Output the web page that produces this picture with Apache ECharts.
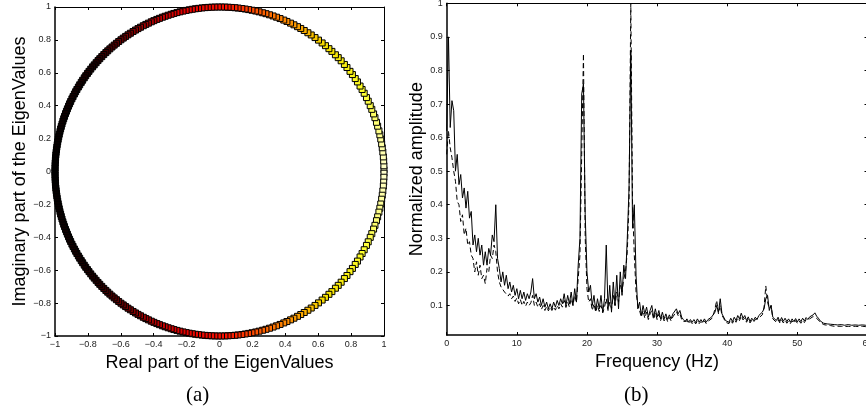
<!DOCTYPE html>
<html>
<head>
<meta charset="utf-8">
<script src="https://cdn.jsdelivr.net/npm/echarts@6.0.0/dist/echarts.min.js"></script>
<style>
html,body{margin:0;padding:0;background:#fff;}
#chart{width:866px;height:414px;}
</style>
</head>
<body>
<div id="chart"></div>
<script>
// ---------- (a) eigenvalues on the unit circle: angles (degrees) of the upper-half eigenvalues ----------
const eigAnglesDeg = [
 0.6, 2.0, 3.7, 5.1, 6.8, 8.3, 9.7, 11.4, 12.9, 14.3, 16.0, 17.4, 19.1, 20.5, 22.2, 23.6, 25.3, 26.7, 28.4, 29.9,
 31.3, 33.0, 34.4, 36.1, 37.5, 39.2, 40.6, 42.3, 43.8, 45.2, 46.9, 48.3, 49.9, 51.4, 53.0, 54.5, 56.1, 57.5, 59.0, 60.4,
 61.7, 63.1, 64.4, 65.8, 67.0, 68.4, 69.7, 71.0, 72.3, 73.6, 74.8, 76.1, 77.3, 78.6, 79.8, 81.0, 82.2, 83.5, 84.6, 85.8,
 87.0, 88.1, 89.3, 90.4, 91.6, 92.7, 93.9, 95.0, 96.1, 97.3, 98.4, 99.5, 100.6, 101.7, 102.8, 103.9, 105.0, 106.1, 107.1, 108.2,
 109.3, 110.3, 111.4, 112.4, 113.5, 114.5, 115.6, 116.6, 117.6, 118.7, 119.7, 120.7, 121.7, 122.8, 123.8, 124.8, 125.8, 126.8, 127.8, 128.8,
 129.8, 130.8, 131.8, 132.8, 133.7, 134.7, 135.7, 136.7, 137.6, 138.6, 139.6, 140.5, 141.5, 142.5, 143.4, 144.4, 145.3, 146.3, 147.2, 148.2,
 149.1, 150.1, 151.0, 151.9, 152.9, 153.8, 154.8, 155.7, 156.6, 157.6, 158.5, 159.4, 160.4, 161.3, 162.2, 163.2, 164.1, 165.0, 165.9, 166.9,
 167.8, 168.7, 169.6, 170.6, 171.5, 172.4, 173.3, 174.2, 175.2, 176.1, 177.0, 177.9, 178.8, 179.7
];

// ---------- (b) normalized spectra, sampled every 0.25 Hz from 0 to 60 Hz ----------
const freqStep = 0.25;
const ampSolid = [
 0.62, 0.90, 0.63, 0.71, 0.68, 0.50, 0.55, 0.46, 0.49, 0.42, 0.45, 0.39, 0.44, 0.36, 0.38, 0.28, 0.31, 0.26, 0.30, 0.25,
 0.28, 0.22, 0.26, 0.22, 0.27, 0.25, 0.31, 0.29, 0.40, 0.24, 0.21, 0.17, 0.20, 0.16, 0.19, 0.15, 0.17, 0.14, 0.16, 0.13,
 0.15, 0.12, 0.145, 0.12, 0.14, 0.115, 0.135, 0.12, 0.14, 0.18, 0.12, 0.135, 0.11, 0.125, 0.10, 0.12, 0.095, 0.11, 0.09, 0.105,
 0.09, 0.11, 0.095, 0.115, 0.10, 0.12, 0.105, 0.135, 0.10, 0.13, 0.105, 0.14, 0.10, 0.15, 0.11, 0.22, 0.30, 0.73, 0.76, 0.37,
 0.20, 0.14, 0.16, 0.10, 0.13, 0.085, 0.12, 0.09, 0.13, 0.08, 0.12, 0.28, 0.09, 0.16, 0.08, 0.17, 0.10, 0.19, 0.09, 0.20,
 0.13, 0.22, 0.18, 0.30, 0.45, 0.86, 0.33, 0.40, 0.19, 0.09, 0.11, 0.07, 0.10, 0.075, 0.095, 0.065, 0.085, 0.10, 0.065, 0.09,
 0.065, 0.085, 0.06, 0.08, 0.06, 0.075, 0.058, 0.072, 0.06, 0.075, 0.07, 0.09, 0.075, 0.085, 0.065, 0.058, 0.052, 0.06, 0.05, 0.058,
 0.05, 0.058, 0.049, 0.06, 0.05, 0.058, 0.05, 0.06, 0.05, 0.058, 0.055, 0.065, 0.06, 0.08, 0.10, 0.08, 0.12, 0.075, 0.07, 0.055,
 0.06, 0.05, 0.062, 0.052, 0.065, 0.055, 0.07, 0.06, 0.077, 0.062, 0.07, 0.055, 0.066, 0.052, 0.062, 0.055, 0.065, 0.058, 0.07, 0.065,
 0.08, 0.09, 0.12, 0.13, 0.085, 0.10, 0.065, 0.068, 0.055, 0.065, 0.052, 0.064, 0.053, 0.062, 0.052, 0.06, 0.05, 0.06, 0.052, 0.061,
 0.051, 0.06, 0.052, 0.062, 0.054, 0.064, 0.058, 0.066, 0.064, 0.072, 0.078, 0.068, 0.062, 0.054, 0.052, 0.047, 0.05, 0.045, 0.048, 0.044,
 0.047, 0.043, 0.047, 0.042, 0.046, 0.043, 0.047, 0.041, 0.046, 0.043, 0.045, 0.041, 0.046, 0.042, 0.045, 0.041, 0.045, 0.042, 0.044, 0.041,
 0.044
];
const ampDashed = [
 0.55, 0.62, 0.57, 0.54, 0.50, 0.47, 0.41, 0.40, 0.35, 0.37, 0.31, 0.33, 0.28, 0.29, 0.25, 0.24, 0.20, 0.23, 0.19, 0.22,
 0.18, 0.19, 0.165, 0.21, 0.20, 0.25, 0.24, 0.28, 0.26, 0.20, 0.17, 0.155, 0.15, 0.14, 0.145, 0.128, 0.135, 0.12, 0.128, 0.112,
 0.122, 0.105, 0.118, 0.10, 0.112, 0.098, 0.11, 0.10, 0.108, 0.13, 0.10, 0.11, 0.095, 0.105, 0.088, 0.10, 0.085, 0.097, 0.084, 0.095,
 0.085, 0.096, 0.086, 0.10, 0.09, 0.105, 0.095, 0.115, 0.094, 0.11, 0.095, 0.12, 0.10, 0.13, 0.11, 0.18, 0.25, 0.55, 0.85, 0.30,
 0.15, 0.11, 0.12, 0.085, 0.105, 0.08, 0.10, 0.082, 0.10, 0.078, 0.095, 0.12, 0.085, 0.11, 0.09, 0.13, 0.10, 0.14, 0.11, 0.16,
 0.14, 0.18, 0.20, 0.26, 0.41, 1.0, 0.40, 0.25, 0.14, 0.10, 0.085, 0.065, 0.085, 0.062, 0.08, 0.058, 0.075, 0.085, 0.058, 0.078,
 0.058, 0.074, 0.055, 0.07, 0.054, 0.066, 0.052, 0.064, 0.054, 0.066, 0.064, 0.082, 0.07, 0.076, 0.058, 0.052, 0.047, 0.054, 0.046, 0.052,
 0.046, 0.053, 0.045, 0.054, 0.046, 0.052, 0.046, 0.054, 0.046, 0.053, 0.05, 0.06, 0.07, 0.09, 0.115, 0.075, 0.10, 0.07, 0.062, 0.05,
 0.054, 0.046, 0.056, 0.047, 0.058, 0.05, 0.063, 0.055, 0.068, 0.057, 0.063, 0.05, 0.06, 0.048, 0.056, 0.05, 0.058, 0.053, 0.063, 0.06,
 0.072, 0.095, 0.158, 0.11, 0.09, 0.10, 0.06, 0.062, 0.05, 0.058, 0.048, 0.057, 0.048, 0.056, 0.047, 0.054, 0.046, 0.054, 0.047, 0.055,
 0.047, 0.054, 0.047, 0.056, 0.049, 0.058, 0.053, 0.06, 0.06, 0.067, 0.07, 0.062, 0.056, 0.05, 0.047, 0.043, 0.045, 0.041, 0.043, 0.04,
 0.042, 0.038, 0.042, 0.038, 0.041, 0.038, 0.042, 0.037, 0.041, 0.038, 0.04, 0.037, 0.041, 0.038, 0.04, 0.037, 0.04, 0.038, 0.04, 0.037,
 0.039
];
const ampTicks = [0.1, 0.2, 0.3, 0.4, 0.5, 0.6, 0.7, 0.8, 0.9, 1];

// ---------- colour scale for eigenvalue markers (by |angle|) ----------
const colorStops = [
 [0, [255, 255, 208]], [12, [255, 255, 150]], [30, [255, 255, 40]], [50, [245, 224, 0]],
 [62, [255, 160, 0]], [75, [255, 96, 0]], [88, [255, 16, 0]], [105, [224, 0, 0]],
 [120, [144, 0, 0]], [140, [32, 0, 0]], [180, [0, 0, 0]]
];
function colorFor(a) {
  for (let i = 1; i < colorStops.length; i++) {
    if (a <= colorStops[i][0]) {
      const [a0, c0] = colorStops[i - 1], [a1, c1] = colorStops[i];
      const t = (a - a0) / (a1 - a0);
      const c = c0.map((v, k) => Math.round(v + (c1[k] - v) * t));
      return 'rgb(' + c.join(',') + ')';
    }
  }
  return '#000';
}

// eigenvalues (real systems give conjugate pairs): upper half + conjugates
const eigPoints = [];
eigAnglesDeg.forEach(d => {
  const r = d * Math.PI / 180;
  eigPoints.push([Math.cos(r), Math.sin(r), d]);
  eigPoints.push([Math.cos(r), -Math.sin(r), d]);
});
const solidPts = ampSolid.map((v, i) => [i * freqStep, v]);
const dashedPts = ampDashed.map((v, i) => [i * freqStep, v]);

const SANS = '"Liberation Sans", Arial, Helvetica, sans-serif';
const SERIF = '"Liberation Serif", "DejaVu Serif", serif';
const minusFmt = v => String(+(+v).toFixed(1)).replace('-', '\u2212');
const tickLbl = { fontSize: 9, color: '#222', fontFamily: SANS, margin: 4 };
const nameStyle = { fontSize: 18, color: '#000', fontFamily: SANS };

function boxAxis(extra, main, width) {
  return Object.assign({
    type: 'value',
    splitLine: { show: false },
    axisLine: { show: true, onZero: false, lineStyle: { color: '#000', width: width } },
    axisTick: { show: true, inside: true, length: 3, lineStyle: { color: '#000', width: 1 } },
    axisLabel: main ? Object.assign({ show: true }, tickLbl) : { show: false },
    silent: true
  }, extra);
}

const chart = echarts.init(document.getElementById('chart'), null, { renderer: 'canvas' });
chart.setOption({
  animation: false,
  backgroundColor: '#fff',
  grid: [
    { left: 55, top: 7, width: 329, height: 329, outerBoundsMode: 'none', containLabel: false },
    { left: 446.7, top: 3.3, width: 420.8, height: 331.7, outerBoundsMode: 'none', containLabel: false }
  ],
  xAxis: [
    boxAxis({ gridIndex: 0, position: 'bottom', min: -1, max: 1, interval: 0.2,
      name: 'Real part of the EigenValues', nameLocation: 'middle', nameGap: 10, nameTextStyle: nameStyle,
      axisLabel: Object.assign({ formatter: minusFmt }, tickLbl) }, true, 1.5),
    boxAxis({ gridIndex: 0, position: 'top', min: -1, max: 1, interval: 0.2 }, false, 1),
    boxAxis({ gridIndex: 1, position: 'bottom', min: 0, max: 60, interval: 10,
      name: 'Frequency (Hz)', nameLocation: 'middle', nameGap: 10, nameTextStyle: nameStyle,
      axisLabel: Object.assign({ formatter: v => String(v) }, tickLbl) }, true, 1.5),
    boxAxis({ gridIndex: 1, position: 'top', min: 0, max: 60, interval: 10 }, false, 1)
  ],
  yAxis: [
    boxAxis({ gridIndex: 0, position: 'left', min: -1, max: 1, interval: 0.2,
      name: 'Imaginary part of the EigenValues', nameLocation: 'middle', nameGap: 25, nameTextStyle: nameStyle,
      axisLabel: Object.assign({ formatter: minusFmt }, tickLbl) }, true, 1.5),
    boxAxis({ gridIndex: 0, position: 'right', min: -1, max: 1, interval: 0.2 }, false, 1),
    boxAxis({ gridIndex: 1, position: 'left', min: 0.012, max: 1,
      name: 'Normalized amplitude', nameLocation: 'middle', nameGap: 21, nameTextStyle: nameStyle,
      axisTick: { show: true, inside: true, length: 3, customValues: ampTicks, lineStyle: { color: '#000', width: 1 } },
      axisLabel: Object.assign({ customValues: ampTicks, formatter: v => String(+(+v).toFixed(1)) }, tickLbl) }, true, 1.5),
    boxAxis({ gridIndex: 1, position: 'right', min: 0.012, max: 1,
      axisTick: { show: true, inside: true, length: 3, customValues: ampTicks, lineStyle: { color: '#000', width: 1 } } }, false, 1)
  ],
  series: [
    {
      type: 'scatter', xAxisIndex: 0, yAxisIndex: 0,
      data: eigPoints, symbol: 'rect', symbolSize: 6,
      itemStyle: { color: p => colorFor(p.data[2]), borderColor: '#000', borderWidth: 1, opacity: 1 },
      silent: true
    },
    {
      type: 'line', xAxisIndex: 2, yAxisIndex: 2, data: dashedPts, showSymbol: false,
      lineStyle: { color: '#000', width: 1, type: [5, 3] }, silent: true
    },
    {
      type: 'line', xAxisIndex: 2, yAxisIndex: 2, data: solidPts, showSymbol: false,
      lineStyle: { color: '#000', width: 1 }, silent: true
    }
  ],
  graphic: [
    { type: 'text', left: 186, top: 385, style: { text: '(a)', fontSize: 21, fontFamily: SERIF, fill: '#000' } },
    { type: 'text', left: 624, top: 385, style: { text: '(b)', fontSize: 21, fontFamily: SERIF, fill: '#000' } }
  ]
});
</script>
</body>
</html>
